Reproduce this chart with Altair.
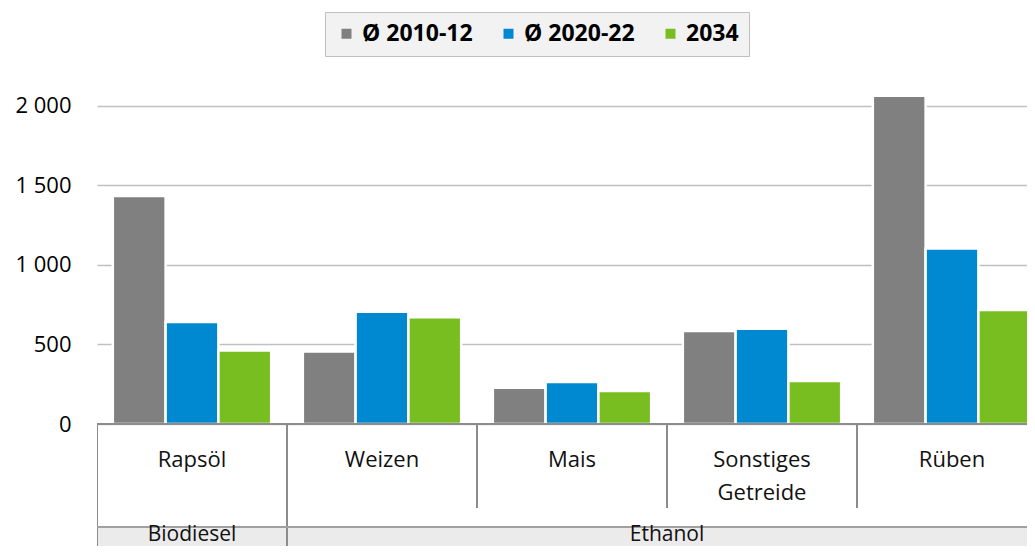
import altair as alt
import pandas as pd

# ---- data ----
categories = ["Rapsöl", "Weizen", "Mais", "Sonstiges\nGetreide", "Rüben"]
series = ["Ø 2010-12", "Ø 2020-22", "2034"]
v_2010_12 = [1432, 455, 228, 584, 2062]
v_2020_22 = [641, 706, 264, 599, 1103]
v_2034 = [462, 671, 208, 270, 717]
groups = ["Biodiesel", "Ethanol", "Ethanol", "Ethanol", "Ethanol"]
y_ticks = [0, 500, 1000, 1500, 2000]
colors = ["#808080", "#0089d0", "#78be20"]

# ---- layout (pixels) ----
FONT = "Open Sans"
PLOT_W = 930          # visible plot width (5th band is cut at the right edge)
BAND_RANGE = 950      # full width of the five category bands
PLOT_H = 486
ZERO_PX = 364         # distance of the zero line from the plot top
K = 318.3 / 2000      # pixels per unit
Y_MAX = ZERO_PX / K
Y_MIN = -(PLOT_H - ZERO_PX) / K


def u(px_below_zero):
    return -px_below_zero / K


rows = []
for i, c in enumerate(categories):
    for s, vals in zip(series, [v_2010_12, v_2020_22, v_2034]):
        rows.append({"cat": c, "series": s, "value": vals[i]})
bars_df = pd.DataFrame(rows)

cat_df = pd.DataFrame({"cat": categories, "group": groups})
sep_df = pd.DataFrame({
    "cat": categories,
    "y0": [0] * 5,
    "y1": [Y_MIN, Y_MIN, u(84), u(84), u(84)],
})
grp_df = pd.DataFrame({"cat": ["Rapsöl", "Mais"], "group": ["Biodiesel", "Ethanol"]})

x_scale = alt.Scale(domain=categories, range=[0, BAND_RANGE], paddingInner=0, paddingOuter=0)
y_scale = alt.Scale(domain=[Y_MIN, Y_MAX], nice=False, zero=False)

y_axis = alt.Axis(
    values=y_ticks, title=None, domain=False, ticks=False, grid=True,
    gridColor="#c0c0c0", gridWidth=1.6, labelFont=FONT, labelFontSize=22,
    labelColor="#000000", labelPadding=26,
    labelExpr="replace(format(datum.value, ','), ',', ' ')",
)

bars = alt.Chart(bars_df).mark_bar(stroke="white", strokeWidth=2.5, clip=True).encode(
    x=alt.X("cat:N", scale=x_scale, axis=None, sort=categories),
    xOffset=alt.XOffset("series:N", sort=series,
                        scale=alt.Scale(domain=series, paddingInner=0, paddingOuter=0.3)),
    y=alt.Y("value:Q", scale=y_scale, axis=y_axis),
    color=alt.Color(
        "series:N", sort=series,
        scale=alt.Scale(domain=series, range=colors),
        legend=alt.Legend(
            title=None, orient="none", direction="horizontal",
            legendX=228, legendY=-48,
            fillColor="#f2f2f2", strokeColor="#bfbfbf", padding=10,
            symbolType="square", symbolSize=100, symbolStrokeWidth=0,
            labelFont=FONT, labelFontSize=23, labelFontWeight="bold",
            labelColor="#000000", labelOffset=4, columnPadding=24,
        ),
    ),
)

gray_row = alt.Chart(cat_df).mark_rect(color="#ebebeb", clip=True).encode(
    x=alt.X("cat:N", scale=x_scale, axis=None),
    y=alt.datum(u(103), scale=y_scale),
    y2=alt.datum(Y_MIN),
)

baseline = alt.Chart(cat_df).mark_rule(color="#8c8c8c", strokeWidth=2).encode(
    y=alt.datum(0, scale=y_scale),
)

hline = alt.Chart(cat_df).mark_rule(color="#a0a0a0", strokeWidth=1.6).encode(
    y=alt.datum(u(103), scale=y_scale),
)

seps = alt.Chart(sep_df).mark_rule(color="#8c8c8c", strokeWidth=2, clip=True).encode(
    x=alt.X("cat:N", scale=x_scale, axis=None, bandPosition=0),
    y=alt.Y("y0:Q", scale=y_scale),
    y2="y1:Q",
)

cat_text = alt.Chart(cat_df).mark_text(
    font=FONT, fontSize=22, color="#111111", baseline="alphabetic",
    lineBreak="\n", lineHeight=33, align="center",
).encode(
    x=alt.X("cat:N", scale=x_scale, axis=None),
    y=alt.value(ZERO_PX + 43),
    text="cat:N",
)

grp_text_b = alt.Chart(grp_df.iloc[[0]]).mark_text(
    font=FONT, fontSize=21, color="#111111", baseline="middle", align="center",
).encode(
    x=alt.X("cat:N", scale=x_scale, axis=None, bandPosition=0.5),
    y=alt.value(PLOT_H - 11),
    text="group:N",
)
grp_text_e = alt.Chart(grp_df.iloc[[1]]).mark_text(
    font=FONT, fontSize=21, color="#111111", baseline="middle", align="center",
).encode(
    x=alt.X("cat:N", scale=x_scale, axis=None, bandPosition=1.0),
    y=alt.value(PLOT_H - 11),
    text="group:N",
)

chart = alt.layer(
    gray_row, bars, baseline, seps, hline, cat_text, grp_text_b, grp_text_e
).properties(
    width=PLOT_W, height=PLOT_H,
    autosize=alt.AutoSizeParams(type="none"),
    padding={"left": 89, "top": 52, "right": 0, "bottom": 0},
    background="white",
).configure_view(stroke=None)

chart.save("out.html", embed_options={"renderer": "svg", "actions": False})
